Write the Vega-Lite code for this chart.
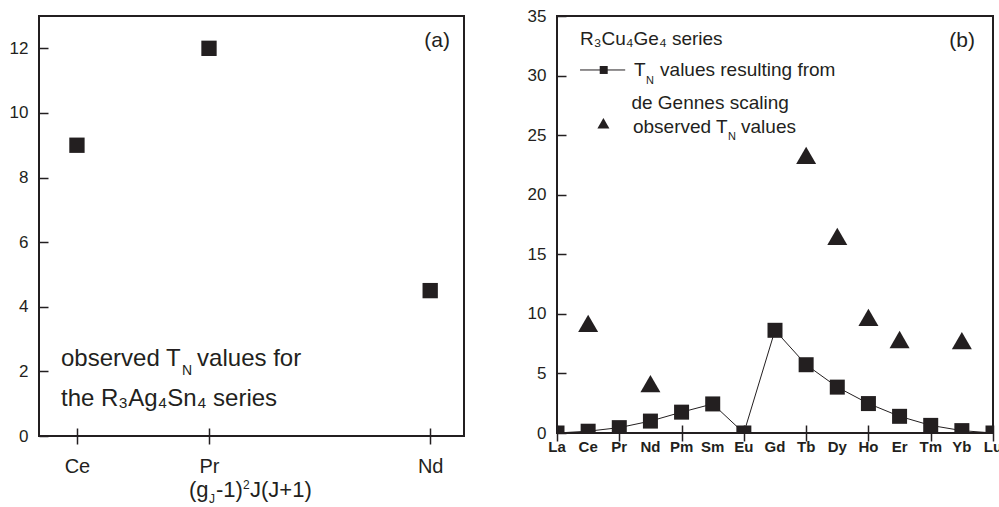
{
  "$schema": "https://vega.github.io/schema/vega-lite/v6.json",
  "background": "white",
  "padding": {"left": 8, "top": 6, "right": 0, "bottom": 0},
  "spacing": 61,
  "config": {
    "view": {"stroke": "#231f20", "strokeWidth": 2},
    "axis": {"labelFont": "Liberation Sans", "labelColor": "#231f20", "tickColor": "#231f20", "tickWidth": 1.5, "grid": false, "title": null, "labelOverlap": false, "labelBound": false},
    "text": {"font": "Liberation Sans", "color": "#231f20"}
  },
  "datasets": {
    "ag": [
      {"element": "Ce", "deGennes": 0.1786, "TN": 9},
      {"element": "Pr", "deGennes": 0.8, "TN": 12},
      {"element": "Nd", "deGennes": 1.8409, "TN": 4.5}
    ],
    "cu": [
      {"element": "La", "Z": 57, "calc": 0},
      {"element": "Ce", "Z": 58, "calc": 0.15, "obs": 9.2},
      {"element": "Pr", "Z": 59, "calc": 0.45},
      {"element": "Nd", "Z": 60, "calc": 1.0, "obs": 4.15},
      {"element": "Pm", "Z": 61, "calc": 1.75},
      {"element": "Sm", "Z": 62, "calc": 2.44},
      {"element": "Eu", "Z": 63, "calc": 0},
      {"element": "Gd", "Z": 64, "calc": 8.62},
      {"element": "Tb", "Z": 65, "calc": 5.73, "obs": 23.3},
      {"element": "Dy", "Z": 66, "calc": 3.85, "obs": 16.5},
      {"element": "Ho", "Z": 67, "calc": 2.47, "obs": 9.7},
      {"element": "Er", "Z": 68, "calc": 1.4, "obs": 7.85},
      {"element": "Tm", "Z": 69, "calc": 0.64},
      {"element": "Yb", "Z": 70, "calc": 0.2, "obs": 7.75},
      {"element": "Lu", "Z": 71, "calc": 0}
    ]
  },
  "hconcat": [
    {
      "width": 425,
      "height": 420,
      "data": {"name": "ag"},
      "layer": [
        {
          "mark": {"type": "point", "shape": "square", "filled": true, "size": 235, "color": "#231f20", "opacity": 1},
          "encoding": {
            "x": {"field": "deGennes", "type": "quantitative", "scale": {"domain": [0, 2], "nice": false},
              "axis": {"values": [0.1786, 0.8, 1.8409], "labelExpr": "datum.value < 0.5 ? 'Ce' : (datum.value < 1.2 ? 'Pr' : 'Nd')", "domain": false, "offset": -8, "tickSize": 16, "labelPadding": 12, "labelFontSize": 20}},
            "y": {"field": "TN", "type": "quantitative", "scale": {"domain": [0, 13], "nice": false},
              "axis": {"values": [0,1,2,3,4,5,6,7,8,9,10,11,12,13], "domain": false, "tickSize": {"condition": {"test": "datum.value % 2 === 0", "value": -9}, "value": -5}, "labelExpr": "datum.value % 2 === 0 ? datum.label : ''", "labelPadding": 20, "labelFontSize": 17}}
          }
        },
        {"data": {"values": [{}]}, "mark": {"type": "text", "align": "right", "baseline": "alphabetic", "fontSize": 21}, "encoding": {"x": {"datum": 1.934}, "y": {"datum": 12.04}, "text": {"value": "(a)"}}},
        {"data": {"values": [{}]}, "mark": {"type": "text", "align": "left", "baseline": "alphabetic", "fontSize": 24}, "encoding": {"x": {"datum": 0.1035}, "y": {"datum": 2.17}, "text": {"value": "observed T"}}},
        {"data": {"values": [{}]}, "mark": {"type": "text", "align": "left", "baseline": "alphabetic", "fontSize": 14}, "encoding": {"x": {"datum": 0.673}, "y": {"datum": 1.89}, "text": {"value": "N"}}},
        {"data": {"values": [{}]}, "mark": {"type": "text", "align": "left", "baseline": "alphabetic", "fontSize": 24}, "encoding": {"x": {"datum": 0.744}, "y": {"datum": 2.17}, "text": {"value": "values for"}}},
        {"data": {"values": [{}]}, "mark": {"type": "text", "align": "left", "baseline": "alphabetic", "fontSize": 24}, "encoding": {"x": {"datum": 0.1035}, "y": {"datum": 0.93}, "text": {"value": "the R₃Ag₄Sn₄ series"}}},
        {"data": {"values": [{}]}, "mark": {"type": "text", "align": "left", "baseline": "alphabetic", "fontSize": 22}, "encoding": {"x": {"datum": 0.706}, "y": {"datum": -1.887}, "text": {"value": "(g"}}},
        {"data": {"values": [{}]}, "mark": {"type": "text", "align": "left", "baseline": "alphabetic", "fontSize": 12}, "encoding": {"x": {"datum": 0.800}, "y": {"datum": -2.07}, "text": {"value": "J"}}},
        {"data": {"values": [{}]}, "mark": {"type": "text", "align": "left", "baseline": "alphabetic", "fontSize": 22}, "encoding": {"x": {"datum": 0.833}, "y": {"datum": -1.887}, "text": {"value": "-1)"}}},
        {"data": {"values": [{}]}, "mark": {"type": "text", "align": "left", "baseline": "alphabetic", "fontSize": 12}, "encoding": {"x": {"datum": 0.960}, "y": {"datum": -1.64}, "text": {"value": "2"}}},
        {"data": {"values": [{}]}, "mark": {"type": "text", "align": "left", "baseline": "alphabetic", "fontSize": 22}, "encoding": {"x": {"datum": 0.993}, "y": {"datum": -1.887}, "text": {"value": "J(J+1)"}}}
      ]
    },
    {
      "width": 436,
      "height": 417,
      "data": {"name": "cu"},
      "layer": [
        {
          "mark": {"type": "line", "color": "#231f20", "strokeWidth": 1, "clip": true},
          "encoding": {
            "x": {"field": "Z", "type": "quantitative", "scale": {"domain": [57, 71], "nice": false},
              "axis": {"values": [57,58,59,60,61,62,63,64,65,66,67,68,69,70,71], "labels": false, "domain": false, "offset": -8, "tickSize": 16}},
            "y": {"field": "calc", "type": "quantitative", "scale": {"domain": [0, 35], "nice": false},
              "axis": {"values": [0,2.5,5,7.5,10,12.5,15,17.5,20,22.5,25,27.5,30,32.5,35], "domain": false, "tickSize": {"condition": {"test": "datum.value % 5 === 0", "value": -9}, "value": -5}, "labelExpr": "datum.value % 5 === 0 ? datum.label : ''", "labelPadding": 20, "labelFontSize": 17}}
          }
        },
        {
          "mark": {"type": "point", "shape": "square", "filled": true, "size": 225, "color": "#231f20", "opacity": 1, "clip": true},
          "encoding": {"x": {"field": "Z", "type": "quantitative"}, "y": {"field": "calc", "type": "quantitative"}}
        },
        {
          "mark": {"type": "point", "shape": "triangle-up", "filled": true, "size": 400, "color": "#231f20", "opacity": 1},
          "encoding": {"x": {"field": "Z", "type": "quantitative"}, "y": {"field": "obs", "type": "quantitative"}}
        },
        {
          "mark": {"type": "text", "align": "center", "baseline": "top", "fontSize": 15, "fontWeight": "bold"},
          "encoding": {"x": {"field": "Z", "type": "quantitative"}, "y": {"datum": -0.55}, "text": {"field": "element"}}
        },
        {"data": {"values": [{}]}, "mark": {"type": "rule", "color": "#231f20", "strokeWidth": 1}, "encoding": {"x": {"datum": 57.74}, "x2": {"datum": 59.19}, "y": {"datum": 30.47}}},
        {"data": {"values": [{}]}, "mark": {"type": "point", "shape": "square", "filled": true, "size": 64, "color": "#231f20", "opacity": 1}, "encoding": {"x": {"datum": 58.5}, "y": {"datum": 30.47}}},
        {"data": {"values": [{}]}, "mark": {"type": "point", "shape": "triangle-up", "filled": true, "size": 144, "color": "#231f20", "opacity": 1}, "encoding": {"x": {"datum": 58.49}, "y": {"datum": 26.0}}},
        {"data": {"values": [{}]}, "mark": {"type": "text", "align": "right", "baseline": "alphabetic", "fontSize": 21}, "encoding": {"x": {"datum": 70.42}, "y": {"datum": 32.36}, "text": {"value": "(b)"}}},
        {"data": {"values": [{}]}, "mark": {"type": "text", "align": "left", "baseline": "alphabetic", "fontSize": 19}, "encoding": {"x": {"datum": 57.74}, "y": {"datum": 32.57}, "text": {"value": "R₃Cu₄Ge₄ series"}}},
        {"data": {"values": [{}]}, "mark": {"type": "text", "align": "left", "baseline": "alphabetic", "fontSize": 19}, "encoding": {"x": {"datum": 59.47}, "y": {"datum": 29.96}, "text": {"value": "T"}}},
        {"data": {"values": [{}]}, "mark": {"type": "text", "align": "left", "baseline": "alphabetic", "fontSize": 11}, "encoding": {"x": {"datum": 59.86}, "y": {"datum": 29.29}, "text": {"value": "N"}}},
        {"data": {"values": [{}]}, "mark": {"type": "text", "align": "left", "baseline": "alphabetic", "fontSize": 19}, "encoding": {"x": {"datum": 60.31}, "y": {"datum": 29.96}, "text": {"value": "values resulting from"}}},
        {"data": {"values": [{}]}, "mark": {"type": "text", "align": "left", "baseline": "alphabetic", "fontSize": 19}, "encoding": {"x": {"datum": 59.39}, "y": {"datum": 27.19}, "text": {"value": "de Gennes scaling"}}},
        {"data": {"values": [{}]}, "mark": {"type": "text", "align": "left", "baseline": "alphabetic", "fontSize": 19}, "encoding": {"x": {"datum": 59.44}, "y": {"datum": 25.18}, "text": {"value": "observed T"}}},
        {"data": {"values": [{}]}, "mark": {"type": "text", "align": "left", "baseline": "alphabetic", "fontSize": 11}, "encoding": {"x": {"datum": 62.49}, "y": {"datum": 24.59}, "text": {"value": "N"}}},
        {"data": {"values": [{}]}, "mark": {"type": "text", "align": "left", "baseline": "alphabetic", "fontSize": 19}, "encoding": {"x": {"datum": 62.91}, "y": {"datum": 25.18}, "text": {"value": "values"}}}
      ]
    }
  ]
}
